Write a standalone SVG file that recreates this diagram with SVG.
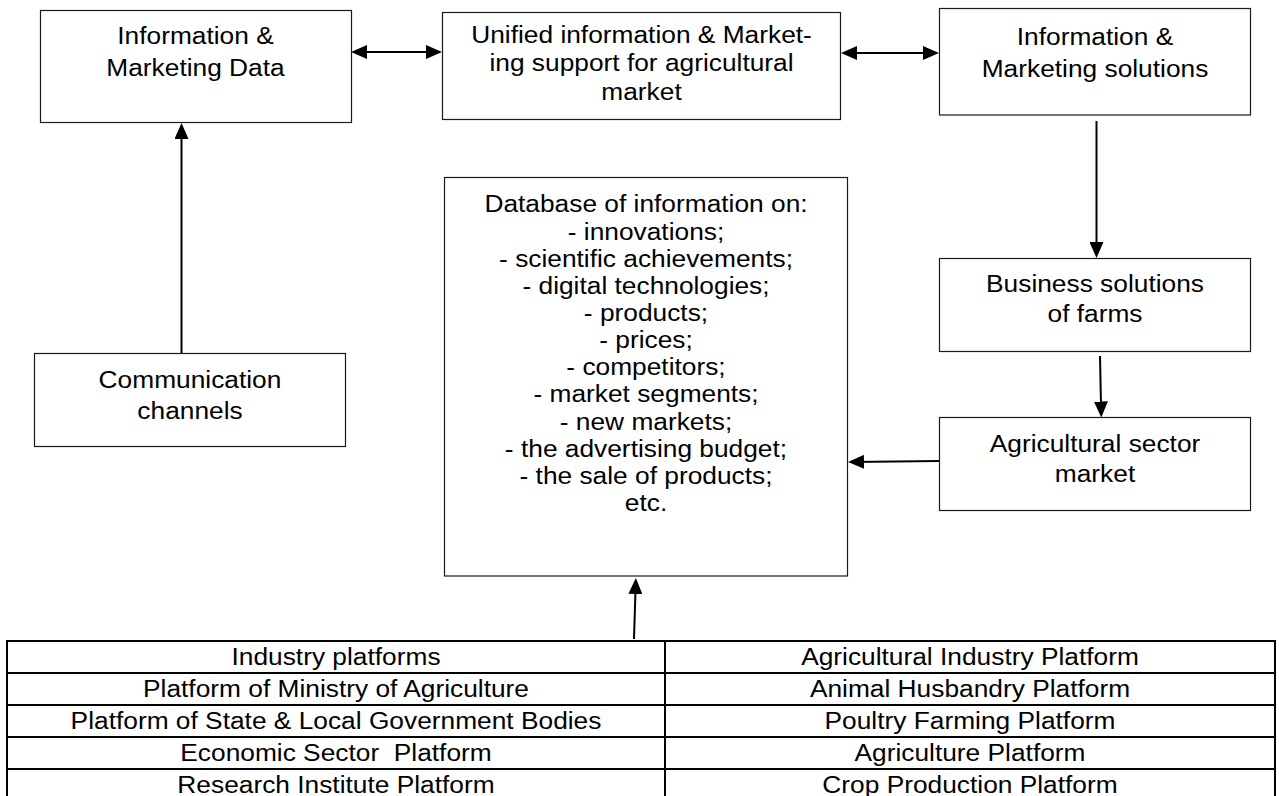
<svg xmlns="http://www.w3.org/2000/svg" width="1279" height="796" viewBox="0 0 1279 796">
<style>
  .box { fill: #ffffff; stroke: #1a1a1a; stroke-width: 1.2; }
  .t { font-family: "Liberation Sans", Arial, sans-serif; font-size: 23.5px; fill: #000000; text-anchor: middle; }
  .conn { stroke: #000000; stroke-width: 2; fill: none; }
  .grid { stroke: #000000; stroke-width: 2; fill: none; }
</style>
<defs>
  <marker id="ah" markerUnits="userSpaceOnUse" markerWidth="16" markerHeight="14" refX="13" refY="7" orient="auto-start-reverse" viewBox="0 0 16 14">
    <path d="M0,0 L16,7 L0,14 z" fill="#000000"/>
  </marker>
</defs>
<rect x="0" y="0" width="1279" height="796" fill="#ffffff"/>

<g id="info-marketing-data">
  <rect class="box" x="40.5" y="10.5" width="311" height="112"/>
  <g transform="translate(195.5 0) scale(1.12 1)">
    <text class="t" x="0" y="44.5">Information &amp;</text>
    <text class="t" x="0" y="76">Marketing Data</text>
  </g>
</g>

<g id="unified-support">
  <rect class="box" x="442.5" y="12.5" width="398" height="107"/>
  <g transform="translate(641.5 0) scale(1.12 1)">
    <text class="t" x="0" y="43">Unified information &amp; Market-</text>
    <text class="t" x="0" y="71.5">ing support for agricultural</text>
    <text class="t" x="0" y="100">market</text>
  </g>
</g>

<g id="info-marketing-solutions">
  <rect class="box" x="939.5" y="8.5" width="311" height="106.5"/>
  <g transform="translate(1095 0) scale(1.12 1)">
    <text class="t" x="0" y="45">Information &amp;</text>
    <text class="t" x="0" y="77">Marketing solutions</text>
  </g>
</g>

<g id="communication-channels">
  <rect class="box" x="34.5" y="353.5" width="311" height="93"/>
  <g transform="translate(190 0) scale(1.12 1)">
    <text class="t" x="0" y="388.5">Communication</text>
    <text class="t" x="0" y="419">channels</text>
  </g>
</g>

<g id="database">
  <rect class="box" x="444.5" y="177.5" width="403" height="398.5"/>
  <g transform="translate(646 0) scale(1.12 1)">
    <text class="t" x="0" y="212.5">Database of information on:</text>
    <text class="t" x="0" y="239.6">- innovations;</text>
    <text class="t" x="0" y="266.8">- scientific achievements;</text>
    <text class="t" x="0" y="293.9">- digital technologies;</text>
    <text class="t" x="0" y="321.1">- products;</text>
    <text class="t" x="0" y="348.2">- prices;</text>
    <text class="t" x="0" y="375.4">- competitors;</text>
    <text class="t" x="0" y="402.5">- market segments;</text>
    <text class="t" x="0" y="429.7">- new markets;</text>
    <text class="t" x="0" y="456.8">- the advertising budget;</text>
    <text class="t" x="0" y="484">- the sale of products;</text>
    <text class="t" x="0" y="511.1">etc.</text>
  </g>
</g>

<g id="business-solutions">
  <rect class="box" x="939.5" y="258.5" width="311" height="93"/>
  <g transform="translate(1095 0) scale(1.12 1)">
    <text class="t" x="0" y="292">Business solutions</text>
    <text class="t" x="0" y="322.5">of farms</text>
  </g>
</g>

<g id="agricultural-sector-market">
  <rect class="box" x="939.5" y="417.5" width="311" height="93"/>
  <g transform="translate(1095 0) scale(1.12 1)">
    <text class="t" x="0" y="452.5">Agricultural sector</text>
    <text class="t" x="0" y="482.5">market</text>
  </g>
</g>

<g id="platforms-table">
  <rect class="grid" x="7" y="641" width="1268" height="160"/>
  <line class="grid" x1="665" y1="641" x2="665" y2="801"/>
  <line class="grid" x1="7" y1="673" x2="1275" y2="673"/>
  <line class="grid" x1="7" y1="705" x2="1275" y2="705"/>
  <line class="grid" x1="7" y1="737" x2="1275" y2="737"/>
  <line class="grid" x1="7" y1="769" x2="1275" y2="769"/>
  <g transform="translate(336 0) scale(1.12 1)">
    <text class="t" x="0" y="665">Industry platforms</text>
    <text class="t" x="0" y="697">Platform of Ministry of Agriculture</text>
    <text class="t" x="0" y="729">Platform of State &amp; Local Government Bodies</text>
    <text class="t" x="0" y="761" xml:space="preserve">Economic Sector  Platform</text>
    <text class="t" x="0" y="793">Research Institute Platform</text>
  </g>
  <g transform="translate(970 0) scale(1.12 1)">
    <text class="t" x="0" y="665">Agricultural Industry Platform</text>
    <text class="t" x="0" y="697">Animal Husbandry Platform</text>
    <text class="t" x="0" y="729">Poultry Farming Platform</text>
    <text class="t" x="0" y="761">Agriculture Platform</text>
    <text class="t" x="0" y="793">Crop Production Platform</text>
  </g>
</g>

<g id="connectors">
  <line class="conn" x1="354" y1="52" x2="439" y2="52" marker-start="url(#ah)" marker-end="url(#ah)"/>
  <line class="conn" x1="844" y1="53" x2="936" y2="53" marker-start="url(#ah)" marker-end="url(#ah)"/>
  <line class="conn" x1="181.5" y1="353" x2="181.5" y2="126" marker-end="url(#ah)"/>
  <line class="conn" x1="1096.5" y1="121" x2="1096.5" y2="255" marker-end="url(#ah)"/>
  <line class="conn" x1="1100" y1="356" x2="1101.2" y2="414.5" marker-end="url(#ah)"/>
  <line class="conn" x1="939" y1="461" x2="851" y2="462" marker-end="url(#ah)"/>
  <line class="conn" x1="634" y1="639" x2="635.8" y2="581" marker-end="url(#ah)"/>
</g>
</svg>
